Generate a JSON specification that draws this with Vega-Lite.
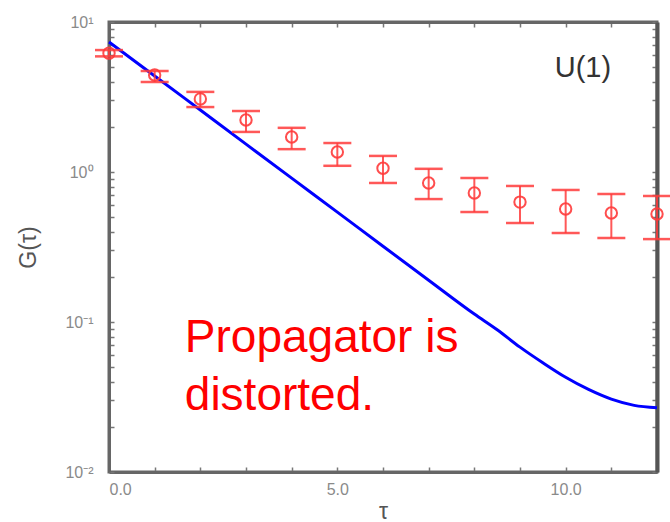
{
  "$schema": "https://vega.github.io/schema/vega-lite/v6.json",
  "width": 548,
  "height": 450,
  "autosize": {"type": "none"},
  "padding": {"left": 109, "top": 22, "right": 13, "bottom": 50},
  "background": "white",
  "config": {
    "view": {"stroke": "#666666", "strokeWidth": 3},
    "axis": {
      "domainColor": "#666666",
      "domainWidth": 3,
      "tickColor": "#777777",
      "tickWidth": 1.5,
      "tickSize": -5,
      "grid": false,
      "labelColor": "#8a8a8a",
      "labelFont": "Liberation Sans",
      "labelFontSize": 16,
      "titleFont": "Liberation Sans",
      "titleFontWeight": "normal",
      "titleColor": "#555555",
      "titleFontSize": 23
    }
  },
  "datasets": {
    "line": [
      {"t": 0, "G": 7.36}, {"t": 1, "G": 4.37}, {"t": 2, "G": 2.59}, {"t": 3, "G": 1.535},
      {"t": 4, "G": 0.91}, {"t": 5, "G": 0.54}, {"t": 6, "G": 0.32}, {"t": 7, "G": 0.19},
      {"t": 8, "G": 0.113}, {"t": 8.5, "G": 0.0888}, {"t": 9, "G": 0.068}, {"t": 9.5, "G": 0.0535},
      {"t": 10, "G": 0.0428}, {"t": 10.5, "G": 0.0355}, {"t": 11, "G": 0.0306}, {"t": 11.5, "G": 0.0278},
      {"t": 12, "G": 0.0268}
    ],
    "pts": [
      {"t": 0, "G": 6.2, "lo": 5.9, "hi": 6.5},
      {"t": 1, "G": 4.43, "lo": 3.98, "hi": 4.71},
      {"t": 2, "G": 3.07, "lo": 2.71, "hi": 3.42},
      {"t": 3, "G": 2.22, "lo": 1.85, "hi": 2.55},
      {"t": 4, "G": 1.71, "lo": 1.42, "hi": 1.97},
      {"t": 5, "G": 1.36, "lo": 1.10, "hi": 1.56},
      {"t": 6, "G": 1.06, "lo": 0.845, "hi": 1.28},
      {"t": 7, "G": 0.845, "lo": 0.66, "hi": 1.05},
      {"t": 8, "G": 0.724, "lo": 0.541, "hi": 0.912},
      {"t": 9, "G": 0.63, "lo": 0.457, "hi": 0.807},
      {"t": 10, "G": 0.567, "lo": 0.392, "hi": 0.759},
      {"t": 11, "G": 0.533, "lo": 0.363, "hi": 0.714},
      {"t": 12, "G": 0.525, "lo": 0.357, "hi": 0.692}
    ],
    "notes": [
      {"t": 1.66, "G": 0.063, "label": "Propagator is\ndistorted."}
    ],
    "tag": [
      {"t": 9.76, "G": 4.3, "label": "U(1)"}
    ]
  },
  "layer": [
    {
      "data": {"name": "line"},
      "mark": {"type": "line", "color": "#0000ff", "strokeWidth": 3, "interpolate": "monotone"},
      "encoding": {
        "x": {
          "field": "t", "type": "quantitative",
          "scale": {"domain": [0, 12], "nice": false, "zero": false},
          "axis": {
            "orient": "bottom",
            "title": "τ",
            "values": [0,1,2,3,4,5,6,7,8,9,10,11,12],
            "labelExpr": "datum.value % 5 == 0 ? format(datum.value, '.1f') : ''",
            "labelPadding": 14,
            "titlePadding": 3
          }
        },
        "y": {
          "field": "G", "type": "quantitative",
          "scale": {"type": "log", "domain": [0.01, 10], "nice": false},
          "axis": {
            "orient": "left",
            "title": "G(τ)",
            "values": [0.01,0.02,0.03,0.04,0.05,0.06,0.07,0.08,0.09,0.1,0.2,0.3,0.4,0.5,0.6,0.7,0.8,0.9,1,2,3,4,5,6,7,8,9,10],
            "labelExpr": "datum.value == 10 ? '10¹' : datum.value == 1 ? '10⁰' : datum.value == 0.1 ? '10⁻¹' : datum.value == 0.01 ? '10⁻²' : ''",
            "labelPadding": 21,
            "titlePadding": 24
          }
        }
      }
    },
    {
      "data": {"name": "line"},
      "mark": {"type": "point", "opacity": 0},
      "encoding": {
        "x": {
          "field": "t", "type": "quantitative",
          "axis": {"orient": "top", "title": null, "labels": false, "values": [0,1,2,3,4,5,6,7,8,9,10,11,12]}
        },
        "y": {
          "field": "G", "type": "quantitative",
          "axis": {"orient": "right", "title": null, "labels": false, "domainColor": "#555555", "domainWidth": 4,
            "values": [0.01,0.02,0.03,0.04,0.05,0.06,0.07,0.08,0.09,0.1,0.2,0.3,0.4,0.5,0.6,0.7,0.8,0.9,1,2,3,4,5,6,7,8,9,10]}
        }
      }
    },
    {
      "data": {"name": "pts"},
      "mark": {"type": "rule", "color": "#ff3b3b", "strokeWidth": 2, "opacity": 0.85},
      "encoding": {
        "x": {"field": "t", "type": "quantitative", "axis": null},
        "y": {"field": "lo", "type": "quantitative", "axis": null},
        "y2": {"field": "hi"}
      }
    },
    {
      "data": {"name": "pts"},
      "mark": {"type": "tick", "orient": "horizontal", "color": "#ff3b3b", "size": 28, "thickness": 2.5, "opacity": 0.85},
      "encoding": {
        "x": {"field": "t", "type": "quantitative", "axis": null},
        "y": {"field": "lo", "type": "quantitative", "axis": null}
      }
    },
    {
      "data": {"name": "pts"},
      "mark": {"type": "tick", "orient": "horizontal", "color": "#ff3b3b", "size": 28, "thickness": 2.5, "opacity": 0.85},
      "encoding": {
        "x": {"field": "t", "type": "quantitative", "axis": null},
        "y": {"field": "hi", "type": "quantitative", "axis": null}
      }
    },
    {
      "data": {"name": "pts"},
      "mark": {"type": "point", "shape": "circle", "filled": false, "color": "#ff3b3b", "strokeWidth": 2, "size": 130, "opacity": 0.9},
      "encoding": {
        "x": {"field": "t", "type": "quantitative", "axis": null},
        "y": {"field": "G", "type": "quantitative", "axis": null}
      }
    },
    {
      "data": {"name": "notes"},
      "mark": {"type": "text", "align": "left", "baseline": "alphabetic", "font": "Liberation Sans", "fontSize": 46, "color": "#ff0000", "lineBreak": "\n", "lineHeight": 58},
      "encoding": {
        "x": {"field": "t", "type": "quantitative", "axis": null},
        "y": {"field": "G", "type": "quantitative", "axis": null},
        "text": {"field": "label"}
      }
    },
    {
      "data": {"name": "tag"},
      "mark": {"type": "text", "align": "left", "baseline": "alphabetic", "font": "Liberation Sans", "fontSize": 29, "color": "#333333"},
      "encoding": {
        "x": {"field": "t", "type": "quantitative", "axis": null},
        "y": {"field": "G", "type": "quantitative", "axis": null},
        "text": {"field": "label"}
      }
    }
  ],
  "resolve": {"axis": {"x": "independent", "y": "independent"}}
}
